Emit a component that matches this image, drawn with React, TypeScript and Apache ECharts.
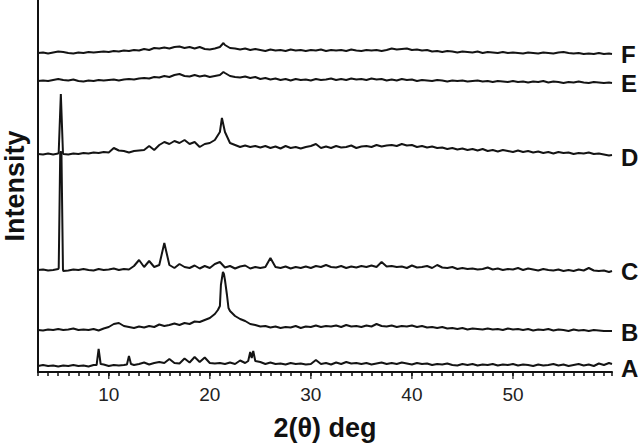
import React, { useEffect, useRef } from "react";
import * as echarts from "echarts";

// Diffraction angle grid (instrument step) — 2θ from 3.0° in 0.5° steps
const ANGLE_START = 3;
const ANGLE_STEP = 0.5;

// Curve names (bottom to top) and vertical offsets used to stack the patterns
const NAMES = ["A", "B", "C", "D", "E", "F"];
const OFFSETS = [6, 42, 102, 218, 291, 319];

// Relative intensities on the 0.5° grid (3.0 … 59.5)
const A_VALUES = [
  0, 1, 0, 0.5, -0.5, 0.5, 0, 1, 0, 0.5, -0.5, 1, 17, 1.5, 0, 1, 0.5, 1, 10, 1,
  2, 3.5, 1.5, 3, 4, 3, 7, 3, 2.5, 7.5, 3.5, 9, 4, 8.5, 3, 2.5, 3, 2, 3.5, 2,
  5.5, 3, 14, 5, 4, 2, 3.5, 2, 2.5, 1.5, 3, 2, 2.5, 1.5, 2, 6, 2, 3, 1.5, 3.5,
  2, 4, 2.5, 3, 2, 3, 1.5, 2.5, 3.5, 2, 3, 2, 3.5, 2.5, 1.5, 3, 2, 2.5, 1, 2,
  1.5, 2.5, 1, 0.5, 2, 1, 2, 0.5, 1.5, 1, 2, 0.5, 1.5, 1, 2, 0.5, 1.5, 1, 0, 1.5,
  0.5, 1, 2, 0.5, 1.5, 0, 1, 2, 0.5, 1.5, 0, 2.5, 1, 3,
];
const B_VALUES = [
  0, -0.5, 0.5, 0, 1, 0, 0.5, 1.5, 0, 0.5, 0, 1, -0.5, 1.5, 3, 6, 7, 4, 3, 2,
  3.5, 2.5, 4, 3, 5.5, 4, 5, 6.5, 5, 7, 6, 8.5, 8, 10, 12, 16, 24, 50, 19, 14,
  11, 9, 6, 5, 3.5, 4, 2.5, 3.5, 2, 3, 2.5, 4, 2, 3.5, 3, 4.5, 3, 4, 3.5, 4.5,
  3, 5, 3.5, 4, 3, 4.5, 3.5, 6, 4, 3.5, 4.5, 3, 4, 3.5, 4.5, 3, 4, 2.5, 3, 2,
  3, 1.5, 2, 1, 2, 0.5, 1.5, 1, 0.5, 1.5, 0.5, 1, 0, 1.5, 0.5, 1, 0, 1, -0.5, 0.5,
  0, 1, -0.5, 0.5, 0, -1, 0.5, -0.5, 0, -1, 0, -0.5, -1, -1,
];
const C_VALUES = [
  0, 0.5, -0.5, 0, 1, -1, -0.5, 0.5, 0, 1, 0, -0.5, 1, 0, 0.5, 1.5, 0, 1, 0.5, 4,
  10, 3, 9, 3, 5, 27, 5, 2, 6, 3, 2, 4.5, 1.5, 4, 2, 6, 8, 2.5, 4, 1.5,
  3.5, 4.5, 1.5, 3, 2, 3, 12, 3, 2, 3.5, 1.5, 3, 2, 3.5, 2, 4, 3, 5, 3, 2.5,
  4, 2, 3.5, 2.5, 4, 3, 4.5, 3, 8, 3.5, 4, 3, 3.5, 2, 4.5, 2.5, 3, 4, 2, 5,
  2.5, 2, 3, 1, 2, 1, 1.5, 0.5, 1, 2.5, 0.5, 1.5, 0, 1, 0.5, 2, 0, 1.5, 0.5, -0.5,
  1, 0, -0.5, 0.5, -1, 0, -1, 0.5, -0.5, 2, -0.5, -1, -0.5, -2,
];
const D_VALUES = [
  0, -0.5, 0.5, -0.5, 0.5, 0, -0.5, 0.5, 0, 1, 0.5, 1.5, 1, 2, 1.5, 6, 3.5, 3, 1.5, 3,
  3.5, 4, 8, 4, 9, 12, 10, 13, 11, 14, 10, 12, 7, 10, 11, 14, 22, 22, 11, 9,
  7, 8.5, 7, 8, 6.5, 8, 6, 7.5, 5.5, 8, 6, 7, 5.5, 7, 8, 10, 6, 7.5, 6, 8,
  6.5, 7, 8.5, 6, 7.5, 8, 7, 9, 7.5, 8.5, 9, 8, 10, 8.5, 9, 7, 8, 6.5, 7.5, 6,
  6.5, 5, 6, 4.5, 5.5, 4, 5, 3.5, 5, 3, 4, 2.5, 4, 3, 2, 3.5, 2, 3, 1.5, 2.5,
  1, 2, 0.5, 2, 1, 1.5, 0, 1, 0.5, 1.5, 0, 0.5, -0.5, -1.5,
];
const E_VALUES = [
  0, 0.5, 0, 1, 2, 1, 0.5, 1.5, 0, -0.5, 0.5, 0, 1, 0.5, 1, 1.5, 0.5, 1.5, 2, 1.5,
  2.5, 3, 2.5, 4, 3.5, 5, 4, 6, 7, 5, 4.5, 6, 4.5, 5.5, 4, 5, 6, 8, 5, 4,
  3.5, 4.5, 3, 4, 2, 3, 1.5, 2.5, 1, 2, 0.5, 2, 1, 1.5, 0.5, 2, 1, 1.5, 2.5, 1,
  2, 1, 2.5, 1.5, 2, 1, 2.5, 1.5, 2, 0.5, 1.5, 0.5, 2, 1, 1.5, 0, 1, 0.5, 0, 1,
  0.5, -0.5, 0.5, 0, 0.5, -0.5, 0, 0.5, -0.5, 0, -1, 0, -0.5, -1, 0, -1, -0.5, -1.5, -0.5, -1,
  0, -1.5, -0.5, -1, -2, -1, -1.5, -0.5, -1.5, -2, -1, -1.5, -2, -1.5,
];
const F_VALUES = [
  0, 0.5, -0.5, 0.5, 1.5, 1, 0, -0.5, 0.5, 0, 1, 0.5, 1, 1.5, 1, 2, 1.5, 2.5, 2, 3,
  2.5, 4, 3, 5, 4.5, 5.5, 4.5, 6, 6.5, 5, 6, 4.5, 6, 4, 3.5, 4.5, 6, 8, 5, 4.5,
  3.5, 4.5, 3, 4, 3, 2, 3.5, 2.5, 3, 2, 3.5, 2.5, 3, 2, 3, 2.5, 3.5, 2, 3, 2.5,
  3, 2, 3.5, 2.5, 2, 3, 2.5, 3, 2, 3, 4.5, 3.5, 4, 4.5, 3, 3.5, 2.5, 3, 1.5, 2,
  1, 2, 1.5, 0.5, 1.5, 1, 0.5, 1.5, 0, 1, 0.5, 0, 1, 0, 0.5, 0, -0.5, 0.5, 0, -0.5,
  0.5, 0, -0.5, 0.5, 1, 0, -0.5, 0, -1, -0.5, -1, 0, -1, -0.5,
];

// Extra points (2θ, intensity) resolving the sharp reflections and the scan end
const A_EXTRA = [[8.8, 1], [9.2, 2], [11.8, 1.5], [12.2, 2], [23.8, 5], [24.15, 8], [24.3, 15], [59.8, 2]];
const B_EXTRA = [[20.8, 20], [21.1, 45], [21.3, 58], [21.4, 56], [21.7, 35], [21.85, 22], [59.8, -1]];
const C_EXTRA = [[5.05, 2], [5.2, 118], [5.32, 118], [5.47, 1], [59.8, -1]];
const D_EXTRA = [[5.05, 2], [5.26, 60], [5.47, 1], [21.2, 36], [59.8, -1]];
const E_EXTRA = [[21.35, 9], [59.8, -2]];
const F_EXTRA = [[21.35, 10], [59.8, -1]];

const X_MIN = 3;
const X_MAX = 59.8;
const MAJOR_TICKS = [10, 20, 30, 40, 50];

const ALL_VALUES = [A_VALUES, B_VALUES, C_VALUES, D_VALUES, E_VALUES, F_VALUES];
const ALL_EXTRA = [A_EXTRA, B_EXTRA, C_EXTRA, D_EXTRA, E_EXTRA, F_EXTRA];

function buildSeriesData(values: number[], extra: number[][], offset: number) {
  const pts = values.map((v, i) => [ANGLE_START + ANGLE_STEP * i, v + offset]);
  extra.forEach(([x, v]) => pts.push([x, v + offset]));
  pts.sort((a, b) => a[0] - b[0]);
  return pts;
}

const FONT = "'Liberation Sans', Arial, Helvetica, sans-serif";
const LABEL_DY = [4, 1, 0, 2, 0, 0];

export default function App() {
  const ref = useRef<HTMLDivElement>(null);
  useEffect(() => {
    if (!ref.current) return;
    const chart = echarts.init(ref.current, null, { renderer: "svg" });
    const lineSeries = NAMES.map((name, k) => ({
      name,
      type: "line",
      data: buildSeriesData(ALL_VALUES[k], ALL_EXTRA[k], OFFSETS[k]),
      showSymbol: false,
      symbol: "none",
      clip: false,
      lineStyle: { color: "#141414", width: 2 },
      endLabel: {
        show: true,
        formatter: name,
        fontFamily: FONT,
        fontSize: 24,
        fontWeight: "bold",
        color: "#111",
        distance: 9,
        offset: [0, LABEL_DY[k]],
      },
      silent: true,
    }));
    chart.setOption({
      animation: false,
      grid: { left: 38, right: 29, top: 0, bottom: 73, outerBoundsMode: "none", containLabel: false },
      xAxis: {
        type: "value",
        min: X_MIN,
        max: X_MAX,
        interval: 1,
        name: "2(θ) deg",
        nameLocation: "middle",
        nameGap: 42,
        nameTextStyle: { fontFamily: FONT, fontSize: 27, fontWeight: "bold", color: "#111" },
        axisLine: { show: true, lineStyle: { color: "#111", width: 2 } },
        axisTick: { show: true, length: 4, lineStyle: { color: "#111", width: 1.5 } },
        axisLabel: {
          margin: 13,
          fontFamily: FONT,
          fontSize: 19,
          color: "#222",
          formatter: (v: number) => (Math.abs(v % 10) < 1e-9 ? String(v) : ""),
        },
        splitLine: { show: false },
      },
      yAxis: {
        type: "value",
        min: 0,
        max: 372,
        name: "Intensity",
        nameLocation: "middle",
        nameGap: 10,
        nameTextStyle: { fontFamily: FONT, fontSize: 27, fontWeight: "bold", color: "#111" },
        axisLine: { show: true, lineStyle: { color: "#111", width: 2 } },
        axisTick: { show: false },
        axisLabel: { show: false },
        splitLine: { show: false },
      },
      series: [
        ...lineSeries,
        {
          type: "scatter",
          data: MAJOR_TICKS.map((t) => [t, 0]),
          symbol: "rect",
          symbolSize: [1.5, 7],
          symbolOffset: [0, 3.5],
          itemStyle: { color: "#111" },
          clip: false,
          silent: true,
          z: 5,
        },
      ],
    });
    return () => chart.dispose();
  }, []);
  return (
    <div
      ref={ref}
      style={{ position: "absolute", left: 0, top: 0, width: 641, height: 445, background: "#fff" }}
    />
  );
}
